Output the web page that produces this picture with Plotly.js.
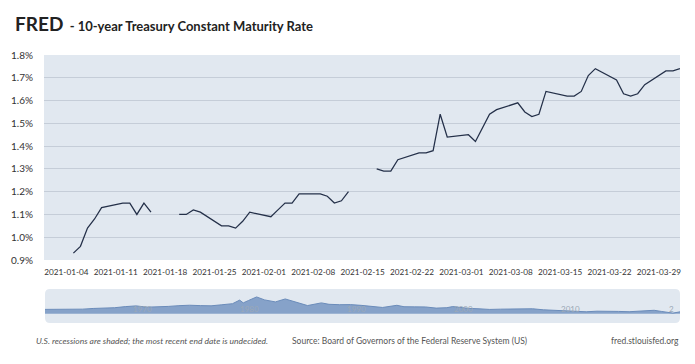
<!DOCTYPE html>
<html>
<head>
<meta charset="utf-8">
<script src="https://cdn.plot.ly/plotly-3.0.1.min.js"></script>
<style>
  html, body { margin: 0; padding: 0; background: #ffffff; }
  #chart { width: 695px; height: 364px; }
</style>
</head>
<body>
<div id="chart"></div>
<script>
// ---- Main series: 10-year Treasury Constant Maturity Rate (percent) ----
const dates = [
  '2021-01-04','2021-01-05','2021-01-06','2021-01-07','2021-01-08',
  '2021-01-11','2021-01-12','2021-01-13','2021-01-14','2021-01-15',
  '2021-01-18','2021-01-19','2021-01-20','2021-01-21','2021-01-22',
  '2021-01-25','2021-01-26','2021-01-27','2021-01-28','2021-01-29',
  '2021-02-01','2021-02-02','2021-02-03','2021-02-04','2021-02-05',
  '2021-02-08','2021-02-09','2021-02-10','2021-02-11','2021-02-12',
  '2021-02-15','2021-02-16','2021-02-17','2021-02-18','2021-02-19',
  '2021-02-22','2021-02-23','2021-02-24','2021-02-25','2021-02-26',
  '2021-03-01','2021-03-02','2021-03-03','2021-03-04','2021-03-05',
  '2021-03-08','2021-03-09','2021-03-10','2021-03-11','2021-03-12',
  '2021-03-15','2021-03-16','2021-03-17','2021-03-18','2021-03-19',
  '2021-03-22','2021-03-23','2021-03-24','2021-03-25','2021-03-26',
  '2021-03-29','2021-03-30','2021-03-31'
];
const rates = [
  0.93, 0.96, 1.04, 1.08, 1.13,
  1.15, 1.15, 1.10, 1.15, 1.11,
  null, 1.10, 1.10, 1.12, 1.11,
  1.05, 1.05, 1.04, 1.07, 1.11,
  1.09, 1.12, 1.15, 1.15, 1.19,
  1.19, 1.18, 1.15, 1.16, 1.20,
  null, 1.30, 1.29, 1.29, 1.34,
  1.37, 1.37, 1.38, 1.54, 1.44,
  1.45, 1.42, 1.48, 1.54, 1.56,
  1.59, 1.55, 1.53, 1.54, 1.64,
  1.62, 1.62, 1.64, 1.71, 1.74,
  1.69, 1.63, 1.62, 1.63, 1.67,
  1.73, 1.73, 1.74
];

// ---- Navigator (full history, estimated from the thumbnail) ----
const navDates = [
  '1962-01-02','1963-07-01','1964-07-01','1965-07-01','1966-07-01','1967-07-01',
  '1968-07-01','1969-07-01','1970-07-01','1971-07-01','1972-07-01','1973-07-01',
  '1974-07-01','1975-07-01','1976-07-01','1977-07-01','1978-07-01','1979-07-01',
  '1980-03-01','1980-07-01','1981-01-01','1981-09-30','1982-07-01','1983-07-01',
  '1984-06-01','1985-07-01','1986-07-01','1987-10-15','1988-07-01','1989-07-01',
  '1990-07-01','1991-07-01','1992-07-01','1993-07-01','1994-11-01','1995-07-01',
  '1996-07-01','1997-07-01','1998-07-01','1999-07-01','2000-01-15','2001-07-01',
  '2002-07-01','2003-07-01','2004-07-01','2005-07-01','2006-07-01','2007-07-01',
  '2008-07-01','2009-07-01','2010-07-01','2011-07-01','2012-07-01','2013-07-01',
  '2014-07-01','2015-07-01','2016-07-01','2017-07-01','2018-11-01','2019-07-01',
  '2020-08-01','2021-03-31'
];
const navRates = [
  4.06, 4.00, 4.19, 4.28, 4.93, 5.07,
  5.64, 6.67, 7.35, 6.16, 6.21, 6.85,
  7.56, 7.99, 7.61, 7.42, 8.41, 9.43,
  12.8, 10.2, 12.5, 15.8, 13.0, 11.1,
  13.9, 10.6, 7.67, 10.2, 8.85, 8.49,
  8.55, 7.86, 7.01, 5.87, 7.9, 6.57,
  6.44, 6.35, 5.26, 5.65, 6.7, 5.02,
  4.61, 4.01, 4.27, 4.29, 4.80, 4.63,
  3.66, 3.26, 3.22, 2.78, 1.80, 2.35,
  2.54, 2.14, 1.84, 2.33, 3.2, 2.14,
  0.55, 1.74
];
const navLabelDates = ['1970-01-01','1980-01-01','1990-01-01','2000-01-01','2010-01-01','2020-01-01'];
const navLabelTexts = ['1970','1980','1990','2000','2010','2'];

// ---- Tick labels ----
const xTickDates = ['2021-01-04','2021-01-11','2021-01-18','2021-01-25','2021-02-01','2021-02-08',
  '2021-02-15','2021-02-22','2021-03-01','2021-03-08','2021-03-15','2021-03-22','2021-03-29'];
const xTickLabels = xTickDates.slice();
const yTickVals = [0.9, 1.0, 1.1, 1.2, 1.3, 1.4, 1.5, 1.6, 1.7, 1.8];
const yTickLabels = ['0.9%','1.0%','1.1%','1.2%','1.3%','1.4%','1.5%','1.6%','1.7%','1.8%'];

// ---- Layout geometry (pixels) ----
const W = 695, H = 364;
const M = {l: 44, r: 15, t: 55, b: 41};
const PW = W - M.l - M.r, PH = H - M.t - M.b;
const px2x = p => (p - M.l) / PW;
const py2y = p => (H - M.b - p) / PH;

const mainBottom = py2y(260);
const navTop = py2y(289);

// rounded navigator background
const nx0 = px2x(45), nx1 = px2x(680), ny0 = 0, ny1 = navTop;
const rx = 5 / PW, ry = 5 / PH;
const navPath = `M ${nx0+rx},${ny0} L ${nx1-rx},${ny0} Q ${nx1},${ny0} ${nx1},${ny0+ry} ` +
  `L ${nx1},${ny1-ry} Q ${nx1},${ny1} ${nx1-rx},${ny1} L ${nx0+rx},${ny1} ` +
  `Q ${nx0},${ny1} ${nx0},${ny1-ry} L ${nx0},${ny0+ry} Q ${nx0},${ny0} ${nx0+rx},${ny0} Z`;

const BG = '#e1e8f0';
const FONT = 'Lato, "Open Sans", sans-serif';

const traces = [
  {
    x: dates, y: rates, type: 'scatter', mode: 'lines',
    line: {color: '#243049', width: 1.25},
    connectgaps: false, hoverinfo: 'skip',
    xaxis: 'x', yaxis: 'y'
  },
  {
    x: navDates, y: navRates, type: 'scatter', mode: 'lines',
    line: {color: '#6b8cba', width: 1},
    fill: 'tozeroy', fillcolor: '#86a2c9',
    hoverinfo: 'skip', xaxis: 'x2', yaxis: 'y2'
  }
];

const FOOT = 8.5;
const annotations = [
  {xref: 'paper', yref: 'paper', x: px2x(34), y: py2y(341), xanchor: 'left', yanchor: 'middle',
   text: '<i>U.S. recessions are shaded; the most recent end date is undecided.</i>',
   showarrow: false, font: {family: FONT, size: FOOT, color: '#555555'}},
  {xref: 'paper', yref: 'paper', x: px2x(290), y: py2y(341), xanchor: 'left', yanchor: 'middle',
   text: 'Source: Board of Governors of the Federal Reserve System (US)',
   showarrow: false, font: {family: FONT, size: FOOT, color: '#555555'}},
  {xref: 'paper', yref: 'paper', x: px2x(681), y: py2y(341), xanchor: 'right', yanchor: 'middle',
   text: 'fred.stlouisfed.org',
   showarrow: false, font: {family: FONT, size: FOOT, color: '#555555'}}
];
navLabelDates.forEach((d, i) => {
  annotations.push({
    xref: 'x2', yref: 'paper', x: d, y: py2y(308.5), xanchor: 'left', yanchor: 'middle', xshift: 0,
    text: navLabelTexts[i], showarrow: false,
    font: {family: FONT, size: 8, color: '#9ba8b7'}
  });
});

const layout = {
  width: W, height: H,
  margin: M,
  paper_bgcolor: '#ffffff',
  plot_bgcolor: 'rgba(0,0,0,0)',
  showlegend: false,
  font: {family: FONT, color: '#333333'},
  title: {
    text: '<span style="font-size:19px">FRED</span>&nbsp;&nbsp;- 10-year Treasury Constant Maturity Rate',
    font: {family: FONT, size: 13, color: '#222222', weight: 'bold'},
    x: 15 / W, xanchor: 'left', xref: 'container',
    y: 1 - 26 / H, yanchor: 'middle', yref: 'container'
  },
  xaxis: {
    domain: [0, 1],
    range: ['2020-12-30 20:00', '2021-03-31'],
    type: 'date',
    tickmode: 'array', tickvals: xTickDates, ticktext: xTickLabels,
    tickangle: 0,
    ticks: 'outside', ticklen: 4, tickcolor: 'rgba(0,0,0,0)',
    ticklabelshift: -7,
    tickfont: {family: FONT, size: 8.2, color: '#333333'},
    showgrid: false, zeroline: false, showline: false,
    anchor: 'y', fixedrange: true
  },
  yaxis: {
    domain: [mainBottom, 1],
    range: [0.9, 1.8],
    tickmode: 'array', tickvals: yTickVals, ticktext: yTickLabels,
    ticks: 'outside', ticklen: 8, tickcolor: 'rgba(0,0,0,0)',
    tickfont: {family: FONT, size: 10, color: '#333333'},
    showgrid: true, gridcolor: '#c5cdd8', gridwidth: 1,
    zeroline: false, showline: false,
    anchor: 'x', fixedrange: true
  },
  xaxis2: {
    domain: [px2x(45), 1],
    range: ['1962-01-02', '2021-03-31'],
    type: 'date',
    showticklabels: false, showgrid: false, zeroline: false, showline: false, ticks: '',
    anchor: 'y2', fixedrange: true
  },
  yaxis2: {
    domain: [0, navTop],
    range: [-8.8, 23.3],
    showticklabels: false, showgrid: false, zeroline: false, showline: false, ticks: '',
    anchor: 'x2', fixedrange: true
  },
  shapes: [
    {type: 'rect', xref: 'paper', yref: 'paper', x0: 0, x1: 1, y0: mainBottom, y1: 1,
     fillcolor: BG, line: {width: 0}, layer: 'below'},
    {type: 'path', xref: 'paper', yref: 'paper', path: navPath,
     fillcolor: BG, line: {width: 0}, layer: 'below'}
  ],
  annotations: annotations
};

Plotly.newPlot('chart', traces, layout, {staticPlot: true, displayModeBar: false});
</script>
</body>
</html>
